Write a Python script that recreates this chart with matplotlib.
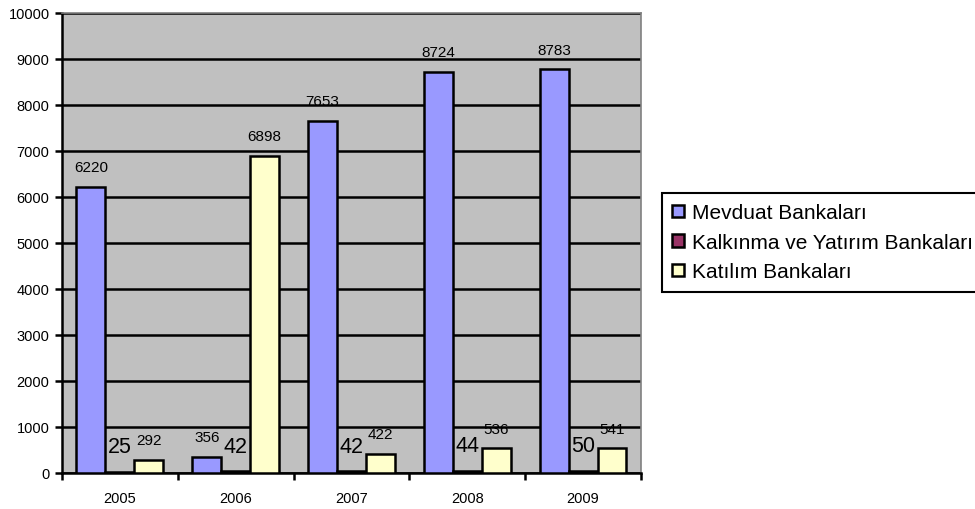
import matplotlib.pyplot as plt
import numpy as np

plt.rcParams['font.family'] = ['Liberation Sans', 'DejaVu Sans']

years = ['2005', '2006', '2007', '2008', '2009']
mevduat = [6220, 356, 7653, 8724, 8783]
kalkinma = [25, 42, 42, 44, 50]
katilim = [292, 6898, 422, 536, 541]

series = [
    ('Mevduat Bankaları', mevduat, '#9999FF', 11),
    ('Kalkınma ve Yatırım Bankaları', kalkinma, '#993366', 15.5),
    ('Katılım Bankaları', katilim, '#FFFFCC', 11),
]

fig = plt.figure(figsize=(9.75, 5.1), dpi=100)
ax = fig.add_axes([0.0636, 0.0706, 0.5938, 0.902])
ax.set_facecolor('#C0C0C0')

x = np.arange(len(years))
w = 0.25
for i, (name, vals, col, fs) in enumerate(series):
    pos = x + (i - 1) * w
    bars = ax.bar(pos, vals, w, color=col, edgecolor='black', linewidth=1.8,
                  label=name, zorder=3)
    for b, v in zip(bars, vals):
        ax.annotate(str(v), (b.get_x() + b.get_width() / 2, v),
                    xytext=(0, 14 if fs < 12 else 18), textcoords='offset points',
                    ha='center', va='center', fontsize=fs, zorder=4)

ax.set_xlim(-0.5, len(years) - 0.5)
ax.set_ylim(0, 10000)
ax.set_yticks(range(0, 10001, 1000))
ax.yaxis.grid(True, color='black', linewidth=1.8, zorder=1)
ax.set_axisbelow(True)

# ticks between the categories, labels in the middle
ax.set_xticks(np.arange(-0.5, len(years), 1))
ax.set_xticklabels([])
ax.set_xticks(x, minor=True)
ax.set_xticklabels(years, minor=True, fontsize=10.5)
ax.tick_params(axis='x', which='major', direction='out', length=5, width=1.8)
ax.tick_params(axis='x', which='minor', length=0, pad=13)
ax.tick_params(axis='y', direction='out', length=5, width=1.8, labelsize=10.5, pad=4)

for s in ['left', 'bottom']:
    ax.spines[s].set_linewidth(1.8)
    ax.spines[s].set_color('black')
for s in ['top', 'right']:
    ax.spines[s].set_linewidth(1.2)
    ax.spines[s].set_color('#808080')

leg = fig.legend(loc='upper left', bbox_to_anchor=(0.679, 0.6196), fontsize=15,
                 frameon=True, fancybox=False, edgecolor='black', framealpha=1,
                 handlelength=0.55, handleheight=0.55, handletextpad=0.4,
                 labelspacing=0.5, borderpad=0.5, borderaxespad=0)
leg.get_frame().set_linewidth(1.5)

plt.savefig('out.png', dpi=100)
